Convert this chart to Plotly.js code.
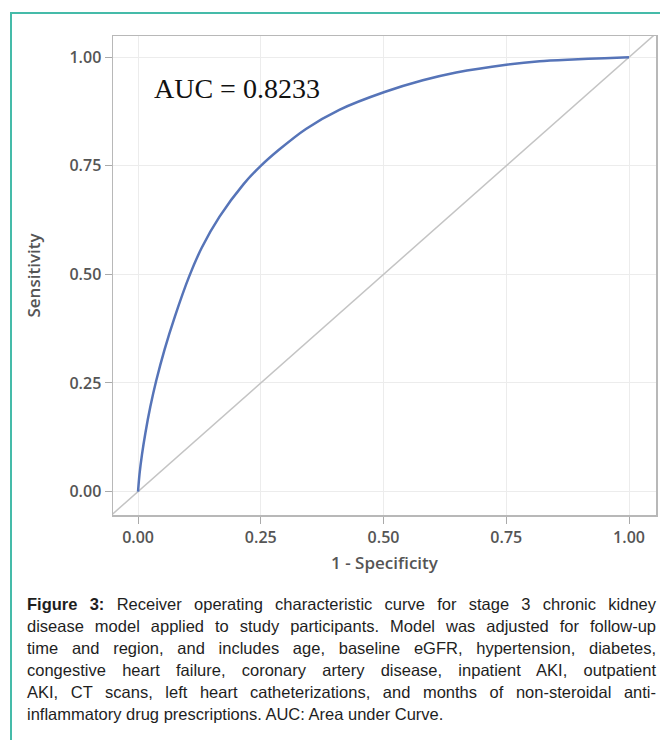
<!DOCTYPE html>
<html>
<head>
<meta charset="utf-8">
<script src="https://cdn.plot.ly/plotly-3.0.1.min.js"></script>
<style>
  html, body { margin: 0; padding: 0; width: 660px; height: 740px; overflow: hidden; background: #ffffff; }
  #frame { position: absolute; left: 10px; top: 12px; width: 700px; height: 800px;
           border-left: 2px solid #45bba9; border-top: 2px solid #45bba9; }
  #chart { position: absolute; left: 0; top: 0; width: 660px; height: 590px; }
  #caption { position: absolute; left: 27px; top: 594px; width: 629px;
             font-family: "Liberation Sans", Arial, sans-serif; font-size: 16.5px; line-height: 21.9px; color: #1e1e1e; }
  #caption .ln { text-align: justify; text-align-last: justify; white-space: nowrap; }
  #caption .ln.last { text-align-last: left; }
</style>
</head>
<body>
<div id="frame"></div>
<div id="chart"></div>
<div id="caption">
  <div class="ln"><b>Figure 3:</b> Receiver operating characteristic curve for stage 3 chronic kidney</div>
  <div class="ln">disease model applied to study participants. Model was adjusted for follow-up</div>
  <div class="ln">time and region, and includes age, baseline eGFR, hypertension, diabetes,</div>
  <div class="ln">congestive heart failure, coronary artery disease, inpatient AKI, outpatient</div>
  <div class="ln">AKI, CT scans, left heart catheterizations, and months of non-steroidal anti-</div>
  <div class="ln last">inflammatory drug prescriptions. AUC: Area under Curve.</div>
</div>
<script>
// ROC curve: 1 - Specificity (x) vs Sensitivity (y)
const fpr = [0, 0.003, 0.008, 0.015, 0.025, 0.037, 0.054, 0.075, 0.104, 0.130, 0.166, 0.215, 0.250, 0.287, 0.342, 0.410, 0.502, 0.580, 0.648, 0.750, 0.818, 0.886, 0.950, 1.0];
const tpr = [0, 0.040, 0.085, 0.135, 0.195, 0.255, 0.327, 0.403, 0.495, 0.562, 0.633, 0.708, 0.750, 0.787, 0.835, 0.879, 0.920, 0.947, 0.965, 0.983, 0.991, 0.995, 0.998, 1.0];
// chance (reference) diagonal
const refX = [-0.06, 1.06];
const refY = [-0.06, 1.06];
const tickVals = [0, 0.25, 0.5, 0.75, 1.0];
const tickText = ["0.00", "0.25", "0.50", "0.75", "1.00"];
const aucLabel = "AUC = 0.8233";

const tickFont = { family: "Open Sans, sans-serif", size: 16, color: "#555555", weight: 600 };
const titleFont = { family: "Open Sans, sans-serif", size: 17, color: "#555555", weight: 600 };

const traces = [
  { x: refX, y: refY, mode: "lines", line: { color: "#c4c4c4", width: 1.5 }, hoverinfo: "skip", showlegend: false },
  { x: fpr, y: tpr, mode: "lines", line: { color: "#5674b8", width: 2.5, shape: "spline", smoothing: 0.8 }, showlegend: false }
];

const axisCommon = {
  showline: true, mirror: true, linecolor: "#b8b8b8", linewidth: 1.5,
  showgrid: true, gridcolor: "#ececec", gridwidth: 1,
  zeroline: false, ticks: "outside", ticklen: 7, tickcolor: "#aaaaaa", tickwidth: 1,
  tickvals: tickVals, ticktext: tickText, tickfont: tickFont, automargin: false
};

const layout = {
  width: 660, height: 590,
  margin: { l: 113, r: 4, t: 36, b: 75 },
  paper_bgcolor: "rgba(0,0,0,0)", plot_bgcolor: "#ffffff",
  xaxis: Object.assign({}, axisCommon, {
    range: [-0.051, 1.055],
    title: { text: "1 - Specificity", font: titleFont, standoff: 10 }
  }),
  yaxis: Object.assign({}, axisCommon, {
    range: [-0.054, 1.049],
    title: { text: "Sensitivity", font: titleFont, standoff: 24 }
  }),
  annotations: [{
    x: 0.029, y: 0.929, xref: "x", yref: "y", xanchor: "left", yanchor: "middle",
    text: aucLabel, showarrow: false,
    font: { family: "Liberation Serif, Times New Roman, serif", size: 28, color: "#111111" }
  }]
};

Plotly.newPlot("chart", traces, layout, { staticPlot: true, displayModeBar: false });
</script>
</body>
</html>
